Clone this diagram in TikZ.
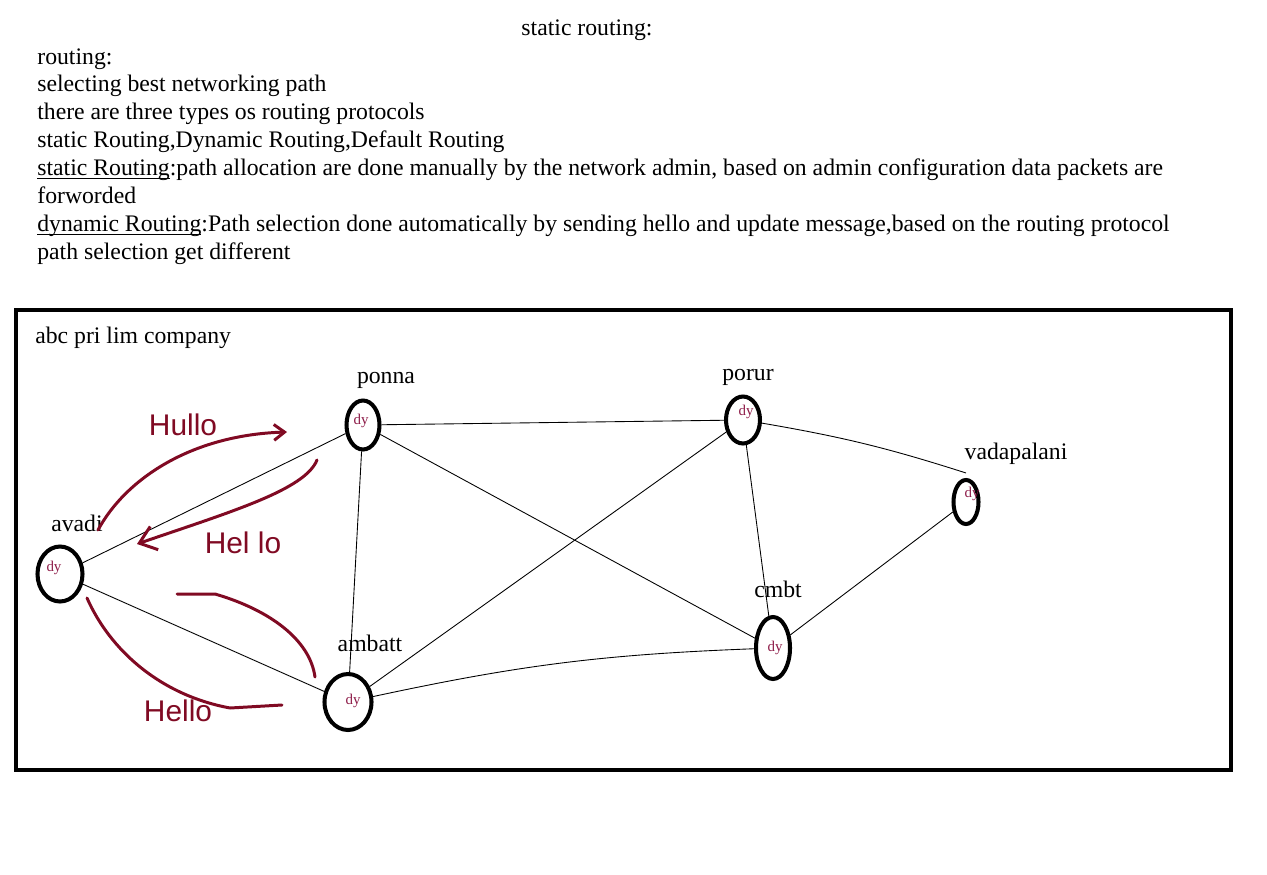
\documentclass[tikz,border=0pt]{standalone}
\usepackage{fontspec}
\setmainfont{Liberation Serif}
\setsansfont{Liberation Sans}
\usetikzlibrary{shapes.geometric,arrows.meta}

\definecolor{inkred}{RGB}{128,10,35}
\definecolor{dyred}{RGB}{140,25,70}

% underline sitting just below the baseline
\newcommand{\lineunder}[1]{\begingroup\setbox0\hbox{#1}\rlap{\rule[-1.6pt]{\wd0}{0.55pt}}\box0\endgroup}

\tikzset{
  router/.style={ellipse, draw, line width=2.3pt, inner sep=0pt},
  dytext/.style={text=dyred, font=\fontsize{8.5}{9}\selectfont, inner sep=0pt},
  placename/.style={font=\fontsize{13.5}{15.9}\selectfont, inner sep=0pt},
  link/.style={line width=0.5pt},
  ink/.style={inkred, line width=1.7pt, line cap=round, line join=round},
  scrawl/.style={text=inkred, font=\sffamily\fontsize{17}{17}\selectfont, inner sep=0pt},
}

\begin{document}
\begin{tikzpicture}[x=0.02cm, y=-0.02cm]
	\useasboundingbox (0,0) rectangle (1267,875);

	% Notes at the top
	\node[placename] (title) at (587,30) {static routing:};
	\node[placename, anchor=north west, align=left] (notes) at (37,48) {routing:\\
		selecting best networking path\\
		there are three types os routing protocols\\
		static Routing,Dynamic Routing,Default Routing\\
		\lineunder{static Routing}:path allocation are done manually by the network admin, based on admin configuration data packets are\\
		forworded\\
		\lineunder{dynamic Routing}:Path selection done automatically by sending hello and update message,based on the routing protocol\\
		path selection get different};

	% Company frame
	\draw[line width=2.3pt] (16,310) rectangle (1231,770);
	\node[placename, anchor=west] (company) at (35,338) {abc pri lim company};

	% Routers
	\foreach \name/\x/\y/\w/\h in {avadi/60/574/0.9/1.1, ponna/363/425/0.66/0.98,
		porur/743/420/0.68/0.94, vadapalani/966/502/0.5/0.88,
		cmbt/773/648/0.68/1.24, ambatt/348/702/0.94/1.12}
		\node[router, minimum width=\w cm, minimum height=\h cm] (\name) at (\x,\y) {};

	% Router names and dy marks
	\foreach \name/\x/\y/\dx/\dy in {avadi/77/523/54/568, ponna/386/380/361/421,
		porur/748/377/746/412, vadapalani/1016/454/972/494,
		cmbt/778/589/775/648, ambatt/370/643/353/701} {
		\node[placename] (\name-name) at (\x,\y) {\name};
		\node[dytext] (\name-dy) at (\dx,\dy) {dy};
	}

	% Links
	\foreach \a/\b in {avadi/ponna, avadi/ambatt, ponna/porur, ponna/cmbt,
		ponna/ambatt, ambatt/porur, porur/cmbt, vadapalani/cmbt}
		\draw[link] (\a) -- (\b);
	\draw[link] (ambatt) to[bend left=5] (cmbt);
	\draw[link] (porur) to[bend left=4] ([yshift=0.1cm]vadapalani.north);

	% Hand-drawn hello messages
	\coordinate (hullo-start) at (98,530);
	\coordinate (hullo-end) at (287,432);
	\draw[ink, -{Straight Barb[length=6pt, width=9pt]}] (hullo-start) .. controls (125,480) and (190,435) .. (hullo-end);
	\node[scrawl] (hullo) at (183,425) {Hullo};

	\coordinate (hel-start) at (317,460);
	\coordinate (hel-end) at (137,544);
	\draw[ink, -{Straight Barb[length=9pt, width=14pt]}] (hel-start) .. controls (305,490) and (230,512) .. (hel-end);
	\node[scrawl] (hel) at (243,543) {Hel lo};

	\coordinate (arc-start) at (177,594);
	\coordinate (arc-mid) at (215,594);
	\coordinate (arc-end) at (315,677);
	\draw[ink] (arc-start) -- (arc-mid) .. controls (270,610) and (310,640) .. (arc-end);

	\coordinate (low-start) at (87,598);
	\coordinate (low-mid) at (230,708);
	\coordinate (low-end) at (282,705);
	\draw[ink] (low-start) .. controls (110,650) and (160,695) .. (low-mid) -- (low-end);
	\node[scrawl] (hello) at (178,711) {Hello};
\end{tikzpicture}
\end{document}
